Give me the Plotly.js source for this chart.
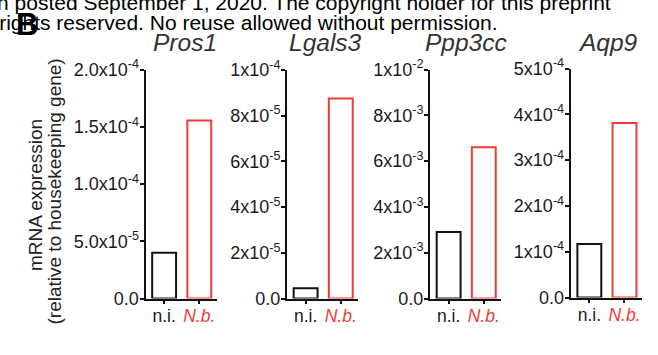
<!DOCTYPE html>
<html>
<head>
<meta charset="utf-8">
<script src="https://cdn.plot.ly/plotly-3.0.1.min.js"></script>
<style>
  html, body { margin: 0; padding: 0; background: #fff; }
  #chart { width: 658px; height: 355px; }
</style>
</head>
<body>
<div id="chart"></div>
<script>
// Groups on the x axis of every panel
const categories = ['n.i.', 'N.b.'];
const categoryLabels = ['n.i.', '<span style="color:#f23b36"><i>N.b.</i></span>'];

// Gene names shown above each panel
const genes = ['Pros1', 'Lgals3', 'Ppp3cc', 'Aqp9'];

// mRNA expression relative to housekeeping gene
const pros1 = [4.0e-5, 1.555e-4];
const lgals3 = [4.5e-6, 8.75e-5];
const ppp3cc = [2.9e-3, 6.6e-3];
const aqp9 = [1.17e-4, 3.81e-4];

// y-axis ticks for each panel
const pros1Ticks = [0, 5e-5, 1e-4, 1.5e-4, 2e-4];
const pros1TickText = ['0.0', '5.0x10<sup>-5</sup>', '1.0x10<sup>-4</sup>', '1.5x10<sup>-4</sup>', '2.0x10<sup>-4</sup>'];
const lgals3Ticks = [0, 2e-5, 4e-5, 6e-5, 8e-5, 1e-4];
const lgals3TickText = ['0.0', '2x10<sup>-5</sup>', '4x10<sup>-5</sup>', '6x10<sup>-5</sup>', '8x10<sup>-5</sup>', '1x10<sup>-4</sup>'];
const ppp3ccTicks = [0, 2e-3, 4e-3, 6e-3, 8e-3, 1e-2];
const ppp3ccTickText = ['0.0', '2x10<sup>-3</sup>', '4x10<sup>-3</sup>', '6x10<sup>-3</sup>', '8x10<sup>-3</sup>', '1x10<sup>-2</sup>'];
const aqp9Ticks = [0, 1e-4, 2e-4, 3e-4, 4e-4, 5e-4];
const aqp9TickText = ['0.0', '1x10<sup>-4</sup>', '2x10<sup>-4</sup>', '3x10<sup>-4</sup>', '4x10<sup>-4</sup>', '5x10<sup>-4</sup>'];

const W = 658, H = 355;
const FONT = 'Liberation Sans, Arial, Helvetica, sans-serif';
const RED = '#f23b36';

const panels = [
  { values: pros1, ticks: pros1Ticks, text: pros1TickText, left: 145.5, top: 69.5, bottom: 298.5, titleX: 185 },
  { values: lgals3, ticks: lgals3Ticks, text: lgals3TickText, left: 287, top: 70, bottom: 298.5, titleX: 325 },
  { values: ppp3cc, ticks: ppp3ccTicks, text: ppp3ccTickText, left: 430, top: 69.5, bottom: 298.5, titleX: 466 },
  { values: aqp9, ticks: aqp9Ticks, text: aqp9TickText, left: 570.7, top: 68.5, bottom: 297.5, titleX: 608 }
];
const panelWidth = 71;

const traces = [];
const layout = {
  width: W, height: H,
  margin: { l: 0, r: 0, t: 0, b: 0 },
  paper_bgcolor: '#fff', plot_bgcolor: 'rgba(0,0,0,0)',
  showlegend: false,
  font: { family: FONT, size: 18, color: '#1a1a1a' },
  annotations: []
};

panels.forEach((p, i) => {
  const n = i === 0 ? '' : String(i + 1);
  traces.push({
    type: 'bar',
    x: categories,
    y: p.values,
    xaxis: 'x' + n, yaxis: 'y' + n,
    width: 0.68,
    marker: { color: ['#ffffff', '#ffffff'], line: { color: ['#111111', RED], width: 2 } },
    hoverinfo: 'x+y'
  });
  const ymax = p.ticks[p.ticks.length - 1];
  layout['xaxis' + n] = {
    domain: [p.left / W, (p.left + panelWidth) / W],
    anchor: 'y' + n,
    type: 'category',
    range: [-0.53, 1.49],
    tickvals: categories,
    ticktext: categoryLabels,
    showline: true, linecolor: '#111', linewidth: 2,
    ticks: 'outside', ticklen: 3, tickwidth: 2, tickcolor: '#111',
    ticklabelstandoff: -3,
    showgrid: false, zeroline: false, fixedrange: true,
    tickfont: { size: 17.5, color: '#1a1a1a' }
  };
  layout['yaxis' + n] = {
    domain: [(H - p.bottom) / H, (H - p.top) / H],
    anchor: 'x' + n,
    range: [0, ymax],
    tickvals: p.ticks,
    ticktext: p.text,
    showline: true, linecolor: '#111', linewidth: 2,
    ticks: 'outside', ticklen: 4, tickwidth: 2, tickcolor: '#111',
    ticklabelstandoff: -3,
    showgrid: false, zeroline: false, fixedrange: true,
    tickfont: { size: 18, color: '#1a1a1a' }
  };
  // gene name above the panel
  layout.annotations.push({
    text: '<i>' + genes[i] + '</i>',
    xref: 'paper', yref: 'paper',
    x: p.titleX / W, y: (H - 43) / H,
    xanchor: 'center', yanchor: 'middle',
    showarrow: false,
    font: { size: 24.5, color: '#333', family: FONT }
  });
});

// shared y-axis title, two lines
layout.annotations.push({
  text: 'mRNA expression', textangle: -90,
  xref: 'paper', yref: 'paper', x: 36 / W, y: (H - 195) / H,
  xanchor: 'center', yanchor: 'middle', showarrow: false,
  font: { size: 19, color: '#222', family: FONT }
});
layout.annotations.push({
  text: '(relative to housekeeping gene)', textangle: -90,
  xref: 'paper', yref: 'paper', x: 54.5 / W, y: (H - 192) / H,
  xanchor: 'center', yanchor: 'middle', showarrow: false,
  font: { size: 19, color: '#222', family: FONT }
});

// preprint notice along the top edge
layout.annotations.push({
  text: 'version posted September 1, 2020. The copyright holder for this preprint',
  xref: 'paper', yref: 'paper', x: 613 / W, y: (H - 3) / H,
  xanchor: 'right', yanchor: 'middle', showarrow: false,
  font: { size: 21, color: '#000', family: FONT }
});
layout.annotations.push({
  text: 'All rights reserved. No reuse allowed without permission.',
  xref: 'paper', yref: 'paper', x: 500 / W, y: (H - 22) / H,
  xanchor: 'right', yanchor: 'middle', showarrow: false,
  font: { size: 21, color: '#000', family: FONT }
});

// panel letter
layout.annotations.push({
  text: '<b>B</b>',
  xref: 'paper', yref: 'paper', x: 14 / W, y: (H - 24) / H,
  xanchor: 'left', yanchor: 'middle', showarrow: false,
  font: { size: 31, color: '#000', family: FONT }
});

Plotly.newPlot('chart', traces, layout, { displayModeBar: false, staticPlot: true });
</script>
</body>
</html>
